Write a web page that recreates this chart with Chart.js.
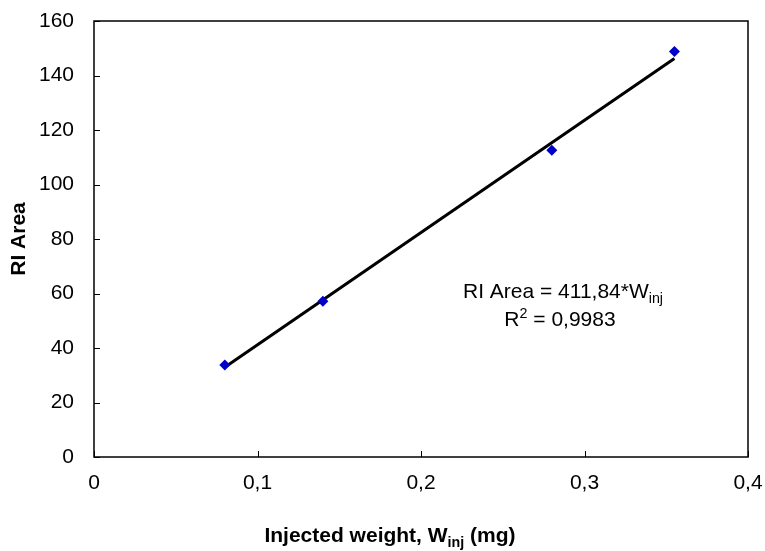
<!DOCTYPE html>
<html>
<head>
<meta charset="utf-8">
<script src="https://cdn.jsdelivr.net/npm/chart.js@4"></script>
<style>
  html, body { margin: 0; padding: 0; background: #fff; }
  #wrap { width: 765px; height: 551px; }
</style>
</head>
<body>
<div id="wrap"><canvas id="myChart"></canvas></div>
<script>
// data
const weights = [0.08, 0.14, 0.28, 0.355];
const riAreas = [33.8, 57.2, 112.6, 148.8];
const trendX = [0.08, 0.355];
const trendY = [32.9, 146.2];
const xTicks = [0, 0.1, 0.2, 0.3, 0.4];
const yTicks = [0, 20, 40, 60, 80, 100, 120, 140, 160];

const fontName = "'Liberation Sans', Arial, sans-serif";

function comma(v) {
  return String(Number(v.toFixed(2))).replace(".", ",");
}

// draw text with sub/superscript parts: parts = [[text, 0|1(sub)|2(sup)], ...]
function drawParts(ctx, parts, cx, cy, size, bold) {
  const weight = bold ? "bold " : "";
  const small = size * 0.68;
  let total = 0;
  parts.forEach(function (p) {
    ctx.font = weight + (p[1] ? small : size) + "px " + fontName;
    total += ctx.measureText(p[0]).width;
  });
  let x = cx - total / 2;
  ctx.textAlign = "left";
  ctx.textBaseline = "middle";
  parts.forEach(function (p) {
    ctx.font = weight + (p[1] ? small : size) + "px " + fontName;
    let dy = 0;
    if (p[1] === 1) dy = size * 0.32;
    if (p[1] === 2) dy = -size * 0.3;
    ctx.fillText(p[0], x, cy + dy);
    x += ctx.measureText(p[0]).width;
  });
}

const framePlugin = {
  id: "frame",
  afterDraw(chart) {
    const ctx = chart.ctx;
    const a = chart.chartArea;
    const xs = chart.scales.x;
    const ys = chart.scales.y;
    ctx.save();
    ctx.strokeStyle = "#000";
    ctx.lineWidth = 1.5;
    ctx.strokeRect(a.left, a.top, a.right - a.left, a.bottom - a.top);
    ctx.lineWidth = 1;
    ctx.beginPath();
    xTicks.forEach(function (t) {
      const px = Math.round(xs.getPixelForValue(t)) + 0.5;
      ctx.moveTo(px, a.bottom);
      ctx.lineTo(px, a.bottom - 6);
    });
    yTicks.forEach(function (t) {
      const py = Math.round(ys.getPixelForValue(t)) + 0.5;
      ctx.moveTo(a.left, py);
      ctx.lineTo(a.left + 6, py);
    });
    ctx.stroke();

    ctx.fillStyle = "#000";
    // axis titles
    drawParts(ctx, [["Injected weight, W", 0], ["inj", 1], [" (mg)", 0]], 390, 536, 21, true);
    ctx.translate(19, (a.top + a.bottom) / 2);
    ctx.rotate(-Math.PI / 2);
    drawParts(ctx, [["RI Area", 0]], 0, 0, 21, true);
    ctx.setTransform(1, 0, 0, 1, 0, 0);

    // equation of the fit
    drawParts(ctx, [["RI Area = 411,84*W", 0], ["inj", 1]], 563, 292, 21, false);
    drawParts(ctx, [["R", 0], ["2", 2], [" = 0,9983", 0]], 560, 320, 21, false);
    ctx.restore();
  }
};

const ctx = document.getElementById("myChart").getContext("2d");

const myChart = new Chart(ctx, {
  type: "scatter",
  data: {
    datasets: [
      {
        label: "RI Area",
        data: weights.map(function (w, i) { return { x: w, y: riAreas[i] }; }),
        pointStyle: "rectRot",
        pointRadius: 5.5,
        backgroundColor: "#0000c8",
        borderColor: "#0000c8",
        borderWidth: 0,
        order: 1,
      },
      {
        type: "line",
        label: "Linear fit",
        data: trendX.map(function (x, i) { return { x: x, y: trendY[i] }; }),
        borderColor: "#000",
        borderWidth: 3,
        pointRadius: 0,
        fill: false,
        order: 2,
      },
    ],
  },
  options: {
    responsive: true,
    maintainAspectRatio: false,
    animation: false,
    layout: { padding: { top: 21, right: 17, left: 0, bottom: 0 } },
    plugins: {
      legend: { display: false },
      tooltip: { enabled: false },
    },
    scales: {
      x: {
        type: "linear",
        min: 0,
        max: 0.4,
        afterBuildTicks(scale) {
          scale.ticks = xTicks.map(function (v) { return { value: v }; });
        },
        afterFit(scale) {
          scale.height = 94;
          scale.paddingLeft = 0;
          scale.paddingRight = 0;
        },
        grid: { display: false, drawTicks: false },
        border: { display: false },
        ticks: {
          padding: 14,
          color: "#000",
          font: { family: fontName, size: 21 },
          callback: function (v) { return comma(v); },
        },
      },
      y: {
        min: 0,
        max: 160,
        afterBuildTicks(scale) {
          scale.ticks = yTicks.map(function (v) { return { value: v }; });
        },
        afterFit(scale) {
          scale.width = 94;
          scale.paddingTop = 0;
          scale.paddingBottom = 0;
        },
        grid: { display: false, drawTicks: false },
        border: { display: false },
        ticks: {
          padding: 20,
          color: "#000",
          font: { family: fontName, size: 21 },
          callback: function (v) { return comma(v); },
        },
      },
    },
  },
  plugins: [framePlugin],
});
</script>
</body>
</html>
